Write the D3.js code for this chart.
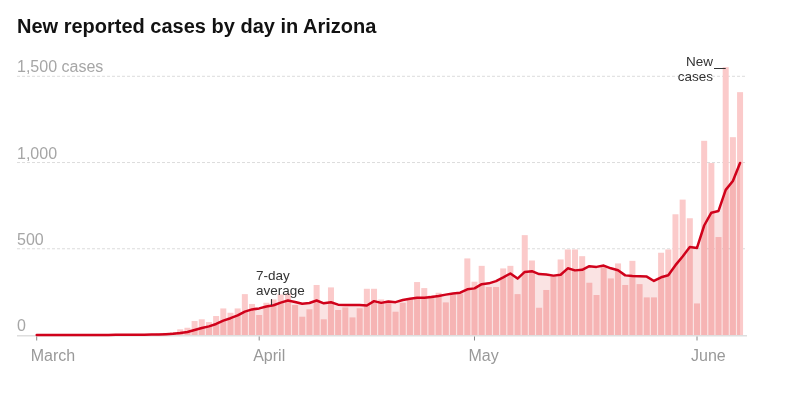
<!DOCTYPE html>
<html>
<head>
<meta charset="utf-8">
<script src="https://cdn.jsdelivr.net/npm/d3@7"></script>
<style>
  body { margin: 0; background: #fff; }
  svg { display: block; font-family: Arial, "Liberation Sans", Helvetica, sans-serif; }
</style>
</head>
<body>
<div class="vis-cases"></div>
<script>
// daily new cases, March 1 .. June 7
var startDate = new Date(Date.UTC(2020, 2, 1));
var cases = [
  0, 0, 0, 0, 0, 1, 0, 0, 1, 0, 3, 1, 1, 3, 1, 2, 6, 9, 12, 17,
  33, 42, 81, 91, 75, 110, 154, 129, 154, 237, 180, 116, 187, 206, 235, 241, 174, 106, 149, 290,
  91, 276, 145, 160, 102, 155, 268, 268, 206, 199, 135, 187, 208, 307, 272, 230, 245, 189, 235, 241,
  444, 309, 401, 278, 278, 386, 401, 237, 579, 432, 158, 261, 342, 438, 496, 496, 457, 303, 232, 395,
  328, 415, 290, 430, 295, 218, 218, 477, 496, 700, 785, 677, 183, 1126, 997, 568, 1553, 1147, 1408
];
// 7-day average as drawn
var avg7 = [
  0, 0, 0, 0, 0, 0, 0.1, 0.1, 0.3, 0.3, 0.7, 0.9, 0.9, 1.3, 1.4, 1.6, 2.4, 3.3, 4.9, 7.1,
  11.4, 17.3, 28.6, 40.7, 50.1, 64.1, 83.7, 97.4, 113.4, 135.7, 148.4, 154.3, 165.3, 172.7, 187.9, 200.3, 191.3, 180.7, 185.4, 200.1,
  183.7, 189.6, 175.9, 173.9, 173.3, 174.1, 171, 196.3, 186.3, 194, 190.4, 202.6, 210.1, 215.7, 216.3, 219.7, 226.3, 234, 240.9, 245.6,
  265.1, 270.4, 294.9, 299.6, 312.3, 333.9, 356.7, 327.1, 365.7, 370.1, 353, 350.6, 344.3, 349.6, 386.6, 374.7, 378.3, 399, 394.9, 402.4,
  386.7, 375.1, 345.7, 341.9, 340.7, 338.7, 313.4, 334.7, 346.3, 404.9, 455.6, 510.1, 505.1, 634.9, 709.1, 719.4, 841.3, 893, 997.4
];
var yTicks = [0, 500, 1000, 1500];
var yTickLabels = ["0", "500", "1,000", "1,500 cases"];
var monthTicks = [new Date(Date.UTC(2020, 2, 1)), new Date(Date.UTC(2020, 3, 1)), new Date(Date.UTC(2020, 4, 1)), new Date(Date.UTC(2020, 5, 1))];
var monthLabels = ["March", "April", "May", "June"];

var data = cases.map(function (d, i) {
  return { date: d3.utcDay.offset(startDate, i), cases: d, avg: avg7[i] };
});

var width = 796, height = 399;
var left = 17, right = 747;

var svg = d3.select(".vis-cases")
  .append("svg")
    .attr("width", width)
    .attr("height", height);

var x = d3.scaleUtc()
  .domain([monthTicks[0], monthTicks[3]])
  .range([36.7, 697]);

var y = d3.scaleLinear()
  .domain([0, 1500])
  .range([335, 76.3]);

// title
svg.append("text")
  .attr("x", 17)
  .attr("y", 33)
  .attr("font-size", 20)
  .attr("font-weight", "bold")
  .attr("fill", "#121212")
  .text("New reported cases by day in Arizona");

// gridlines + y labels
var grid = svg.append("g");
grid.selectAll("line")
  .data(yTicks.slice(1))
  .enter()
  .append("line")
    .attr("x1", left)
    .attr("x2", right)
    .attr("y1", function (d) { return y(d); })
    .attr("y2", function (d) { return y(d); })
    .attr("stroke", "#dcdcdc")
    .attr("stroke-width", 1)
    .attr("stroke-dasharray", "3,2");

grid.selectAll("text")
  .data(yTicks)
  .enter()
  .append("text")
    .attr("x", left)
    .attr("y", function (d) { return y(d) - 4; })
    .attr("font-size", 16)
    .attr("fill", "#a6a6a6")
    .text(function (d, i) { return yTickLabels[i]; });

// bars
svg.append("g")
  .selectAll("rect")
  .data(data)
  .enter()
  .append("rect")
    .attr("x", function (d) { return x(d.date) - 3; })
    .attr("width", 6)
    .attr("y", function (d) { return y(d.cases); })
    .attr("height", function (d) { return y(0) - y(d.cases); })
    .attr("fill", "#fbcaca");

// shaded area under the average
var area = d3.area()
  .x(function (d) { return x(d.date); })
  .y0(y(0))
  .y1(function (d) { return y(d.avg); });

svg.append("path")
  .datum(data)
  .attr("d", area)
  .attr("fill", "#fae3e3")
  .style("mix-blend-mode", "multiply");

// baseline
svg.append("line")
  .attr("x1", left)
  .attr("x2", right)
  .attr("y1", y(0) + 0.8)
  .attr("y2", y(0) + 0.8)
  .attr("stroke", "#dedede")
  .attr("stroke-width", 1.6);

// month ticks
var xAxis = svg.append("g");
xAxis.selectAll("line")
  .data(monthTicks)
  .enter()
  .append("line")
    .attr("x1", function (d) { return x(d); })
    .attr("x2", function (d) { return x(d); })
    .attr("y1", y(0) + 1.5)
    .attr("y2", y(0) + 5.5)
    .attr("stroke", "#888")
    .attr("stroke-width", 1);

xAxis.selectAll("text")
  .data(monthTicks)
  .enter()
  .append("text")
    .attr("x", function (d) { return x(d) - 6; })
    .attr("y", 361)
    .attr("font-size", 16)
    .attr("fill", "#999")
    .text(function (d, i) { return monthLabels[i]; });

// 7-day average line
var line = d3.line()
  .x(function (d) { return x(d.date); })
  .y(function (d) { return y(d.avg); });

svg.append("path")
  .datum(data)
  .attr("d", line)
  .attr("fill", "none")
  .attr("stroke", "#d0021b")
  .attr("stroke-width", 2.5)
  .attr("stroke-linejoin", "round")
  .attr("stroke-linecap", "round");

// annotations
var avgDay = data[33];
var note = svg.append("g").attr("font-size", 13.5).attr("fill", "#333");
note.append("text").attr("x", 256).attr("y", 280).text("7-day");
note.append("text").attr("x", 256).attr("y", 295).text("average");
note.append("line")
  .attr("x1", x(avgDay.date) - 2)
  .attr("x2", x(avgDay.date) - 2)
  .attr("y1", 299)
  .attr("y2", y(avgDay.avg))
  .attr("stroke", "#333")
  .attr("stroke-width", 1);

var peakDay = data[96];
note.append("text").attr("x", 713).attr("y", 66).attr("text-anchor", "end").text("New");
note.append("text").attr("x", 713).attr("y", 81).attr("text-anchor", "end").text("cases");
note.append("line")
  .attr("x1", 714)
  .attr("x2", x(peakDay.date))
  .attr("y1", 68.5)
  .attr("y2", 68.5)
  .attr("stroke", "#333")
  .attr("stroke-width", 1);
</script>
</body>
</html>
